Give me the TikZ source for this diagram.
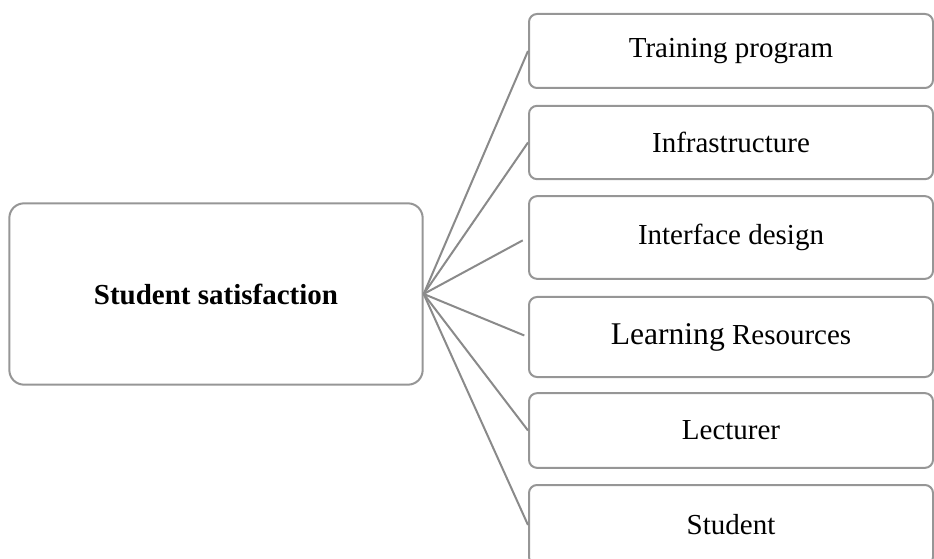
\documentclass[tikz,border=0pt]{standalone}
\usepackage{fontspec}
\setmainfont{Liberation Serif}
\usetikzlibrary{positioning}

\definecolor{boxgray}{RGB}{150,150,150}
\definecolor{linkgray}{RGB}{138,138,138}

\begin{document}
\begin{tikzpicture}[x=0.75pt,y=-0.75pt,
 hub/.style={draw=boxgray,line width=1.5pt,rounded corners=11pt,minimum width=310pt,minimum height=136pt,inner sep=0pt,font=\fontsize{21.75}{26}\selectfont\bfseries},
 factor/.style={draw=boxgray,line width=1.5pt,rounded corners=6pt,minimum width=303pt,inner sep=0pt,font=\fontsize{21.75}{26}\selectfont},
 link/.style={draw=linkgray,line width=1.5pt}]
\clip (0,0) rectangle (934,559);
\node[hub] (sat) at (216,294) {Student satisfaction};
\node[factor,minimum height=55.5pt] (f1) at (731,51) {Training program};
\node[factor,minimum height=55pt] (f2) at (731,142.5) {Infrastructure};
\node[factor,minimum height=62pt] (f3) at (731,237.5) {Interface design};
\node[factor,minimum height=60pt] (f4) at (731,337) {{\fontsize{23.7}{28}\selectfont Learning} Resources};
\node[factor,minimum height=56pt] (f5) at (731,430.5) {Lecturer};
\node[factor,minimum height=60pt] (f6) at (731,525) {Student};
\draw[link] (sat.east) -- (f1.west);
\draw[link] (sat.east) -- (f2.west);
\draw[link,shorten >=4.5pt] (sat.east) -- (f3.west);
\draw[link,shorten >=3pt] (sat.east) -- (f4.west);
\draw[link] (sat.east) -- (f5.west);
\draw[link] (sat.east) -- (f6.west);
\end{tikzpicture}
\end{document}
